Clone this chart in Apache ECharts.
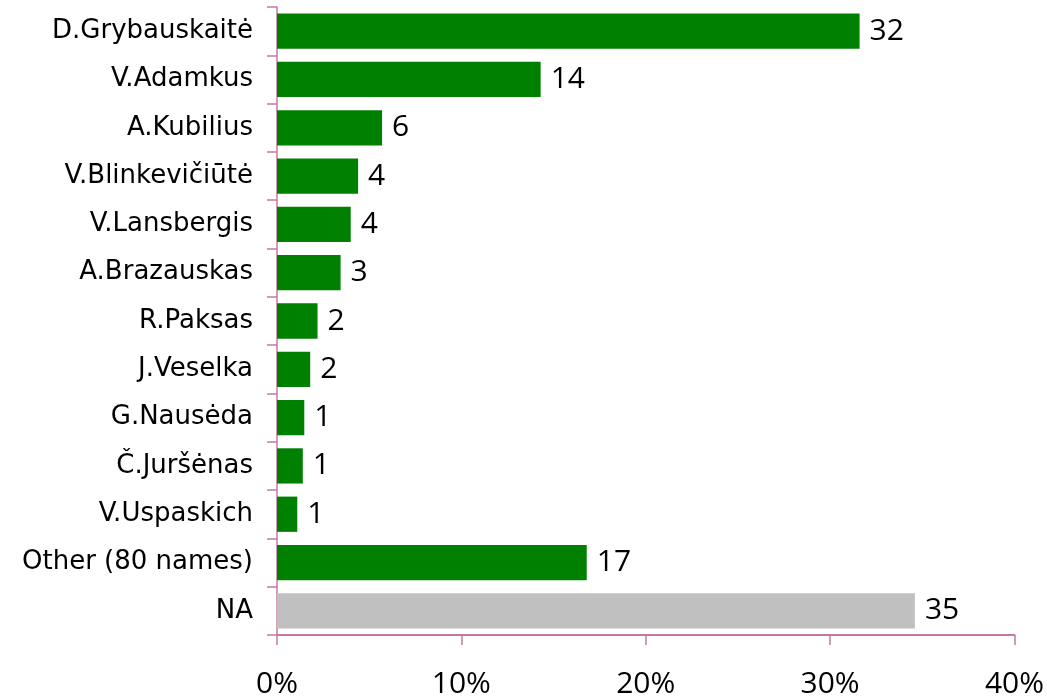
<!DOCTYPE html>
<html>
<head>
<meta charset="utf-8">
<style>
  html, body { margin: 0; padding: 0; background: #ffffff; }
  #chart { width: 1047px; height: 699px; }
</style>
<script src="https://cdn.jsdelivr.net/npm/echarts@6/dist/echarts.min.js"></script>
</head>
<body>
<div id="chart"></div>
<script>
// Names, top to bottom
const categories = [
  'D.Grybauskaitė', 'V.Adamkus', 'A.Kubilius', 'V.Blinkevičiūtė', 'V.Lansbergis',
  'A.Brazauskas', 'R.Paksas', 'J.Veselka', 'G.Nausėda', 'Č.Juršėnas',
  'V.Uspaskich', 'Other (80 names)', 'NA'
];
// Share of answers, percent
const shares = [31.6, 14.3, 5.7, 4.4, 4.0, 3.45, 2.2, 1.8, 1.48, 1.4, 1.1, 16.8, 34.6];
// Percent axis ticks
const axisTicks = [0, 10, 20, 30, 40];

const missingCategory = 'NA';
const axisColor = '#c27aa2';

const chart = echarts.init(document.getElementById('chart'));
chart.setOption({
  animation: false,
  grid: { left: 277, right: 30, top: 7, bottom: 63, containLabel: false },
  xAxis: {
    type: 'value',
    min: axisTicks[0],
    max: axisTicks[axisTicks.length - 1],
    interval: axisTicks[1] - axisTicks[0],
    splitLine: { show: false },
    axisLine: { show: true, lineStyle: { color: axisColor, width: 2 } },
    axisTick: { show: true, length: 10, lineStyle: { color: axisColor, width: 1.5 } },
    axisLabel: {
      margin: 34,
      color: '#000',
      fontFamily: "'Liberation Sans Narrow', 'Open Sans', sans-serif",
      fontSize: 30,
      formatter: v => v + '%'
    }
  },
  yAxis: {
    type: 'category',
    data: categories,
    inverse: true,
    axisLine: { show: true, lineStyle: { color: axisColor, width: 1.5 } },
    axisTick: { show: true, length: 10, lineStyle: { color: axisColor, width: 1.5 } },
    axisLabel: {
      margin: 24,
      color: '#000',
      fontFamily: "'DejaVu Sans', sans-serif",
      fontSize: 26
    }
  },
  series: [{
    type: 'bar',
    data: shares,
    barCategoryGap: '27%',
    itemStyle: {
      color: p => categories[p.dataIndex] === missingCategory ? '#c0c0c0' : '#008000'
    },
    label: {
      show: true,
      position: 'right',
      distance: 10,
      color: '#000',
      fontFamily: "'Open Sans', sans-serif",
      fontSize: 30,
      formatter: p => Math.round(p.value)
    }
  }]
});
</script>
</body>
</html>
